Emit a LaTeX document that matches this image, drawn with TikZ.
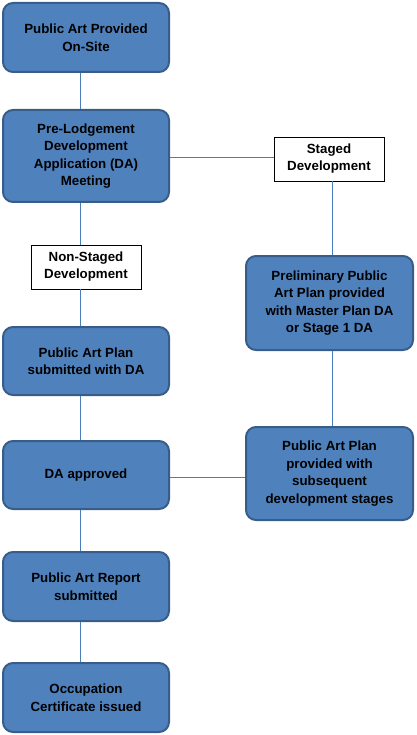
\documentclass[tikz,border=0pt]{standalone}
\usepackage{fontspec}
\setmainfont{Liberation Sans}
\definecolor{boxfill}{HTML}{4F81BD}
\definecolor{boxedge}{HTML}{385D8A}
\definecolor{conn}{HTML}{4A7EBB}
\begin{document}
\begin{tikzpicture}[
  proc/.style={draw=boxedge, line width=2pt, fill=boxfill, rounded corners=10pt,
    align=center, inner sep=0pt, font=\bfseries\fontsize{13.3}{17.5}\selectfont},
  lbl/.style={draw=black, line width=0.8pt, fill=white, align=center, inner sep=0pt,
    font=\bfseries\fontsize{13.3}{17}\selectfont},
  conn/.style={draw=conn, line width=1pt}
]
\useasboundingbox (0,0) rectangle (416pt,-735pt);
\node[proc, minimum width=166pt, minimum height=69pt] (b1) at (86pt,-37.5pt) {Public Art Provided\\On-Site};
\node[proc, minimum width=166pt, minimum height=92pt] (b2) at (86pt,-156pt) {Pre-Lodgement\\Development\\Application (DA)\\Meeting};
\node[lbl, minimum width=110pt, minimum height=44pt] (ns) at (86pt,-267pt) {Non-Staged\\Development};
\node[proc, minimum width=166pt, minimum height=68pt] (b3) at (86pt,-361pt) {Public Art Plan\\submitted with DA};
\node[proc, minimum width=166pt, minimum height=68pt] (da) at (86pt,-475pt) {DA approved};
\node[proc, minimum width=166pt, minimum height=69pt] (rep) at (86pt,-586.5pt) {Public Art Report\\submitted};
\node[proc, minimum width=166pt, minimum height=69pt] (occ) at (86pt,-697.5pt) {Occupation\\Certificate issued};
\node[lbl, minimum width=110pt, minimum height=44pt] (st) at (329pt,-159pt) {Staged\\Development};
\node[proc, minimum width=167pt, minimum height=94pt] (r1) at (329.5pt,-303pt) {Preliminary Public\\Art Plan provided\\with Master Plan DA\\or Stage 1 DA};
\node[proc, minimum width=167pt, minimum height=93pt] (r2) at (329.5pt,-473.5pt) {Public Art Plan\\provided with\\subsequent\\development stages};
\coordinate (lx) at (80pt,0);
\coordinate (rx) at (332pt,0);
\coordinate (h1) at (0,-158pt);
\coordinate (h2) at (0,-477pt);
\draw[conn] (b1.south -| lx) -- (b2.north -| lx);
\draw[conn] (b2.south -| lx) -- (ns.north -| lx);
\draw[conn] (ns.south -| lx) -- (b3.north -| lx);
\draw[conn] (b3.south -| lx) -- (da.north -| lx);
\draw[conn] (da.south -| lx) -- (rep.north -| lx);
\draw[conn] (rep.south -| lx) -- (occ.north -| lx);
\draw[conn] (b2.east |- h1) -- (st.west |- h1);
\draw[conn] (st.south -| rx) -- (r1.north -| rx);
\draw[conn] (r1.south -| rx) -- (r2.north -| rx);
\draw[conn] (da.east |- h2) -- (r2.west |- h2);
\end{tikzpicture}
\end{document}
